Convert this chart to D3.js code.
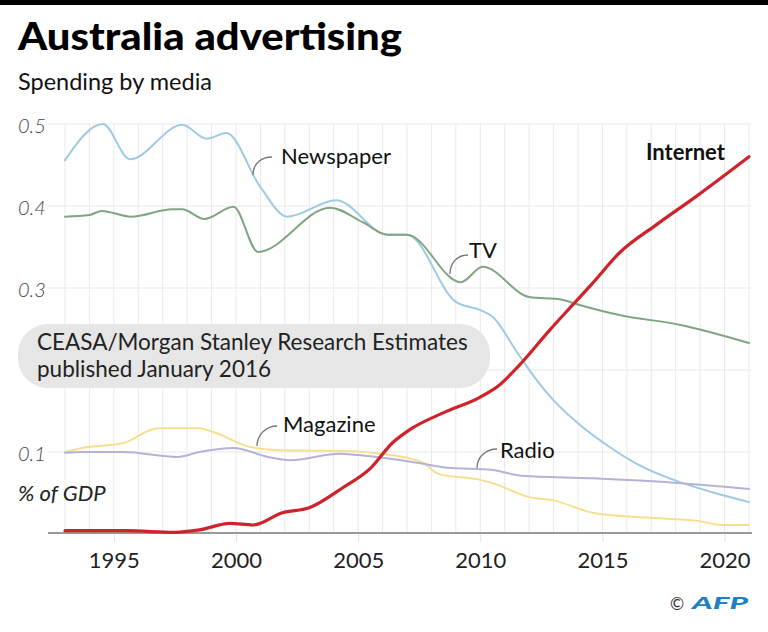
<!DOCTYPE html>
<html>
<head>
<meta charset="utf-8">
<script src="https://cdn.jsdelivr.net/npm/d3@7"></script>
<style>
  html, body { margin: 0; padding: 0; background: #fff; }
  svg { display: block; font-family: Lato, "Noto Sans", sans-serif; }
</style>
</head>
<body>
<svg id="chart" width="768" height="632"></svg>
<script>
// ---- Data (year, % of GDP) ----
const newspaper = [
  [1993.0,0.456],[1994.55,0.500],[1995.66,0.457],[1997.8,0.499],[1998.8,0.482],[1999.6,0.489],
  [2001.0,0.423],[2002.1,0.387],[2004.1,0.407],[2006.2,0.365],[2007.0,0.365],[2009.0,0.283],
  [2010.0,0.273],[2010.5,0.265],[2011.5,0.222],[2012.3,0.188],[2013.0,0.163],[2014.0,0.135],
  [2015.4,0.104],[2016.5,0.084],[2018.2,0.063],[2019.5,0.051],[2021.0,0.039]
];
const tv = [
  [1993.0,0.387],[1994.0,0.389],[1994.5,0.394],[1995.7,0.387],[1997.4,0.396],[1997.8,0.396],
  [1998.7,0.384],[1999.9,0.399],[2000.9,0.344],[2003.85,0.398],[2005.2,0.380],[2006.2,0.365],
  [2007.0,0.365],[2009.2,0.307],[2010.1,0.326],[2012.0,0.289],[2013.3,0.286],[2014.1,0.279],
  [2015.7,0.267],[2018.2,0.255],[2021.0,0.233]
];
const internet = [
  [1993.0,0.004],[1995.5,0.004],[1997.5,0.002],[1998.5,0.005],[1999.75,0.013],[2000.7,0.011],
  [2001.9,0.026],[2003.0,0.032],[2004.4,0.057],[2005.5,0.080],[2006.4,0.111],[2007.1,0.127],
  [2008.5,0.148],[2010.0,0.167],[2010.8,0.182],[2011.6,0.206],[2012.85,0.249],[2013.8,0.280],
  [2014.6,0.306],[2015.7,0.343],[2017.2,0.377],[2018.9,0.413],[2021.0,0.460]
];
const magazine = [
  [1993.0,0.100],[1993.7,0.105],[1995.4,0.111],[1996.8,0.129],[1998.5,0.129],[1999.1,0.124],
  [2000.6,0.106],[2001.9,0.102],[2004.7,0.101],[2005.9,0.098],[2007.6,0.088],[2008.3,0.073],
  [2010.0,0.066],[2010.5,0.062],[2012.0,0.045],[2013.0,0.041],[2014.6,0.026],[2016.8,0.020],
  [2018.9,0.016],[2019.9,0.011],[2021.0,0.011]
];
const radio = [
  [1993.0,0.099],[1993.7,0.100],[1995.4,0.100],[1997.6,0.094],[1998.5,0.100],[1999.9,0.105],
  [2001.3,0.094],[2002.2,0.090],[2004.25,0.098],[2005.4,0.095],[2007.4,0.087],[2008.6,0.081],
  [2010.5,0.078],[2011.7,0.071],[2014.6,0.068],[2018.2,0.062],[2021.0,0.055]
];
const yTicks = [0.1, 0.3, 0.4, 0.5];
const yGrid = [0.1, 0.2, 0.3, 0.4, 0.5];
const xTicks = [1995, 2000, 2005, 2010, 2015, 2020];
const gridYears = d3.range(1993, 2022);

const seriesDefs = [
  {name: "Newspaper", data: newspaper, color: "#9ecbe0", width: 2},
  {name: "TV", data: tv, color: "#80a583", width: 2},
  {name: "Magazine", data: magazine, color: "#f7df90", width: 2},
  {name: "Radio", data: radio, color: "#b5b2d9", width: 2},
  {name: "Internet", data: internet, color: "#d0222a", width: 3.2}
];

const svg = d3.select("#chart");
const x = d3.scaleLinear().domain([1993, 2021]).range([65, 749]);
const y = d3.scaleLinear().domain([0, 0.5]).range([534, 124]);

// top black bar
svg.append("rect").attr("x",0).attr("y",0).attr("width",768).attr("height",5).attr("fill","#000");

// title & subtitle
svg.append("text").attr("x",18).attr("y",50).attr("font-size",38).attr("font-weight",900)
  .attr("fill","#000").attr("textLength",384).attr("lengthAdjust","spacingAndGlyphs")
  .text("Australia advertising");
svg.append("text").attr("x",18).attr("y",90).attr("font-size",23.5).attr("fill","#111")
  .text("Spending by media");

// grid
const grid = svg.append("g");
grid.selectAll(".vg").data(gridYears).join("line")
  .attr("x1", d => x(d)).attr("x2", d => x(d))
  .attr("y1", y(0.5)).attr("y2", y(0))
  .attr("stroke", "#e9e9e9").attr("stroke-width", 1);
grid.selectAll(".hg").data(yGrid).join("line")
  .attr("x1", 48).attr("x2", 751)
  .attr("y1", d => y(d)).attr("y2", d => y(d))
  .attr("stroke", "#e9e9e9").attr("stroke-width", 1);

// y labels
svg.selectAll(".yl").data(yTicks).join("text")
  .attr("x", 18).attr("y", d => y(d) + 9)
  .attr("font-size", 20).attr("font-style", "italic").attr("font-weight", 300)
  .attr("fill", "#444").text(d => d3.format(".1f")(d));
svg.append("text").attr("x",18).attr("y",501).attr("font-size",22).attr("font-style","italic")
  .attr("fill","#222").text("% of GDP");

// annotation box
svg.append("rect").attr("x",18).attr("y",324).attr("width",472).attr("height",64)
  .attr("rx",30).attr("ry",30).attr("fill","#e6e6e6");
svg.append("text").attr("x",37).attr("y",350).attr("font-size",22.5).attr("fill","#222")
  .text("CEASA/Morgan Stanley Research Estimates");
svg.append("text").attr("x",37).attr("y",377).attr("font-size",22.5).attr("fill","#222")
  .text("published January 2016");

// x axis
const xAxis = d3.axisBottom(x).tickValues(xTicks).tickFormat(d3.format("d")).tickSize(9).tickPadding(10);
const ax = svg.append("g").attr("transform", `translate(0,${y(0) - 1})`).call(xAxis);
ax.select(".domain").remove();
ax.selectAll(".tick line").attr("stroke", "#e2e2e2");
ax.selectAll(".tick text").attr("font-size", 22).attr("fill", "#222")
  .attr("font-family", "Lato, sans-serif");
svg.append("line").attr("x1",48).attr("x2",752).attr("y1",y(0)-1).attr("y2",y(0)-1)
  .attr("stroke","#999").attr("stroke-width",2);

// lines
const line = d3.line().x(d => x(d[0])).y(d => y(d[1])).curve(d3.curveMonotoneX);
svg.append("g").selectAll("path").data(seriesDefs).join("path")
  .attr("d", d => line(d.data))
  .attr("fill", "none").attr("stroke", d => d.color).attr("stroke-width", d => d.width)
  .attr("stroke-linejoin", "round").attr("stroke-linecap", "round");

// labels with leader curves
const labels = [
  {text: "Newspaper", x: 281, y: 164, from: [253, 175], to: [272, 157], bold: false},
  {text: "TV", x: 469, y: 258, from: [450, 274], to: [468, 255], bold: false},
  {text: "Magazine", x: 283, y: 432, from: [257, 446], to: [277, 426], bold: false},
  {text: "Radio", x: 500, y: 458, from: [477, 468], to: [497, 449], bold: false},
  {text: "Internet", x: 646, y: 160, bold: true}
];
labels.forEach(l => {
  if (l.from) {
    const [x1, y1] = l.from, [x2, y2] = l.to;
    svg.append("path")
      .attr("d", `M${x1},${y1} C${x1},${y1 - 12} ${x2 - 10},${y2} ${x2},${y2}`)
      .attr("fill", "none").attr("stroke", "#777").attr("stroke-width", 1.3);
  }
  svg.append("text").attr("x", l.x).attr("y", l.y).attr("font-size", 22)
    .attr("font-weight", l.bold ? 700 : 400).attr("fill", "#111").text(l.text);
});

// credit
svg.append("text").attr("x",670).attr("y",610).attr("font-size",17).attr("fill","#333").text("©");
svg.append("text").attr("x",692).attr("y",609).attr("font-size",17).attr("font-weight",900)
  .attr("font-style","italic").attr("fill","#1f7fc4")
  .attr("textLength",56).attr("lengthAdjust","spacingAndGlyphs").text("AFP");
</script>
</body>
</html>
